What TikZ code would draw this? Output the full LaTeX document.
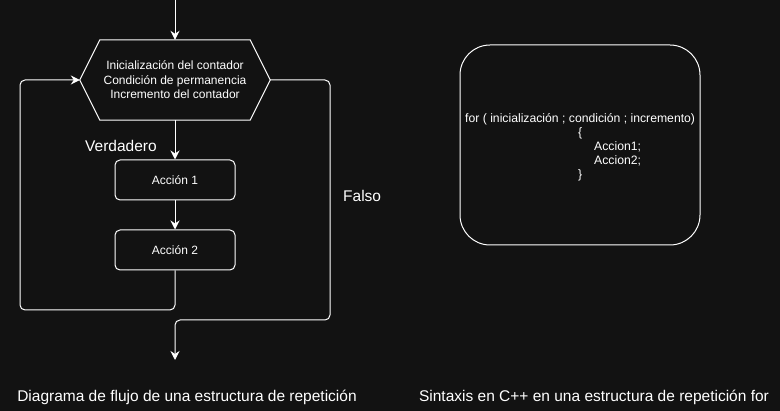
\documentclass[tikz,border=0pt]{standalone}
\usepackage{fontspec}
\setmainfont{Liberation Sans}
\usetikzlibrary{arrows.meta}
\definecolor{bg}{RGB}{18,18,18}
\tikzset{
  ln/.style={draw=white, line width=1pt},
  arr/.style={ln, rounded corners=5pt, -{Stealth[length=9pt,width=9pt,inset=3pt]}},
  actbox/.style={ln, rounded corners=5pt, minimum width=120pt, minimum height=40pt, inner sep=0pt, text=white, font=\fontsize{12}{14}\selectfont},
  hexbox/.style={minimum width=190pt, minimum height=80pt, inner sep=0pt, text=white, align=center, font=\fontsize{12}{14.4}\selectfont},
  lbl/.style={text=white, inner sep=0pt, font=\fontsize{15.5}{18}\selectfont},
  code/.style={text=white, inner sep=0pt, anchor=base west, font=\fontsize{12.2}{14}\selectfont},
}
\begin{document}
\begin{tikzpicture}[x=1pt, y=-1pt]
\fill[bg] (0,0) rectangle (780,411);
\useasboundingbox (0,0) rectangle (780,411);
% flowchart
\coordinate (top) at (175,0);
\node[hexbox] (hex) at (175,80) {Inicialización del contador\\Condición de permanencia\\Incremento del contador};
\draw[ln] (hex.west) -- ([xshift=20pt]hex.north west) -- ([xshift=-20pt]hex.north east) -- (hex.east) -- ([xshift=-20pt]hex.south east) -- ([xshift=20pt]hex.south west) -- cycle;
\node[actbox] (a1) at (175,180) {Acción 1};
\node[actbox] (a2) at (175,250) {Acción 2};
\draw[arr] (top) -- (hex.north);
\draw[arr] (hex.south) -- (a1.north);
\draw[arr] (a1.south) -- (a2.north);
\coordinate (l1) at (175,310);
\coordinate (l2) at (20,310);
\coordinate (l3) at (20,80);
\draw[arr] (a2.south) -- (l1) -- (l2) -- (l3) -- (hex.west);
\coordinate (f1) at (330,80);
\coordinate (f2) at (330,320);
\coordinate (f3) at (175,320);
\coordinate (fend) at (175,360);
\draw[arr] (hex.east) -- (f1) -- (f2) -- (f3) -- (fend);
\node[lbl, anchor=west] (ver) at (85,146) {Verdadero};
\node[lbl, anchor=west] (fal) at (343,196) {Falso};
% code box
\node[ln, rounded corners=30pt, minimum width=240pt, minimum height=200pt] (cbox) at (580,145) {};
\node[code] (c1) at (465,123) {for ( inicialización ; condición ; incremento)};
\node[code] (c2) at (578,137) {\{};
\node[code] (c3) at (594,151) {Accion1;};
\node[code] (c4) at (594,165) {Accion2;};
\node[code] (c5) at (578,179) {\}};
% captions
\node[lbl] (cap1) at (187,397) {Diagrama de flujo de una estructura de repetición};
\node[lbl] (cap2) at (594,397) {Sintaxis en C++ en una estructura de repetición for};
\end{tikzpicture}
\end{document}
